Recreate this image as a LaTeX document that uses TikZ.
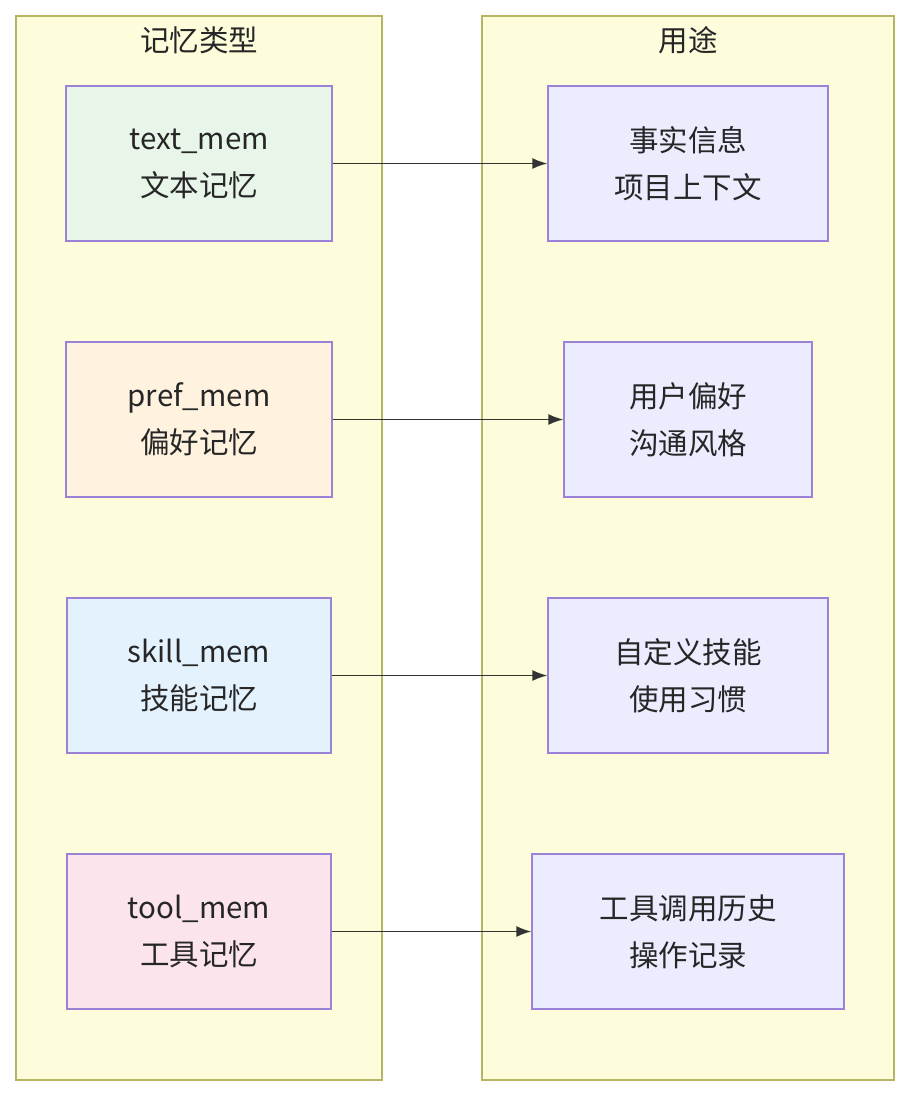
\documentclass[tikz,border=0pt]{standalone}
\usepackage{fontspec}
\setmainfont{Noto Sans CJK SC}
\usetikzlibrary{arrows.meta}
\definecolor{bd}{HTML}{9B82D6}
\definecolor{cb}{HTML}{B5B564}
\definecolor{cf}{HTML}{FDFDDC}
\definecolor{fg}{HTML}{E8F5E9}
\definecolor{fo}{HTML}{FFF3E0}
\definecolor{fb}{HTML}{E3F2FD}
\definecolor{fp}{HTML}{FCE4EC}
\definecolor{fr}{HTML}{ECECFF}
\begin{document}
\begin{tikzpicture}[x=1pt,y=-1pt,
 cl/.style={draw=cb,fill=cf,line width=1.2pt},
 nd/.style={draw=bd,line width=1.3pt,align=center,font=\fontsize{29.5}{47}\selectfont,text=black!85},
 ar/.style={-{Latex[length=15pt,width=11pt]},line width=1.6pt,draw=black!80}]
\useasboundingbox (0,0) rectangle (910,1096);
\fill[white] (0,0) rectangle (910,1096);
\draw[cl] (16,16) rectangle (382,1080);
\draw[cl] (482,16) rectangle (894,1080);
\node[font=\fontsize{29.5}{30}\selectfont,text=black!85] (t1) at (199,40) {记忆类型};
\node[font=\fontsize{29.5}{30}\selectfont,text=black!85] (t2) at (688,40) {用途};
\def\bx#1#2#3#4#5#6{\node[nd,fill=#5,minimum width=#3-#2,minimum height=155] (#1) at ({(#2+#3)/2},#4+77.5) {#6};}
\bx{a}{66}{332}{86}{fg}{text\_mem\\文本记忆}
\bx{b}{66}{332}{342}{fo}{pref\_mem\\偏好记忆}
\bx{c}{67}{331}{598}{fb}{skill\_mem\\技能记忆}
\bx{d}{67}{331}{854}{fp}{tool\_mem\\工具记忆}
\bx{e}{548}{828}{86}{fr}{事实信息\\项目上下文}
\bx{f}{564}{812}{342}{fr}{用户偏好\\沟通风格}
\bx{g}{548}{828}{598}{fr}{自定义技能\\使用习惯}
\bx{h}{532}{844}{854}{fr}{工具调用历史\\操作记录}
\draw[ar] (a) -- (e);
\draw[ar] (b) -- (f);
\draw[ar] (c) -- (g);
\draw[ar] (d) -- (h);
\end{tikzpicture}
\end{document}
